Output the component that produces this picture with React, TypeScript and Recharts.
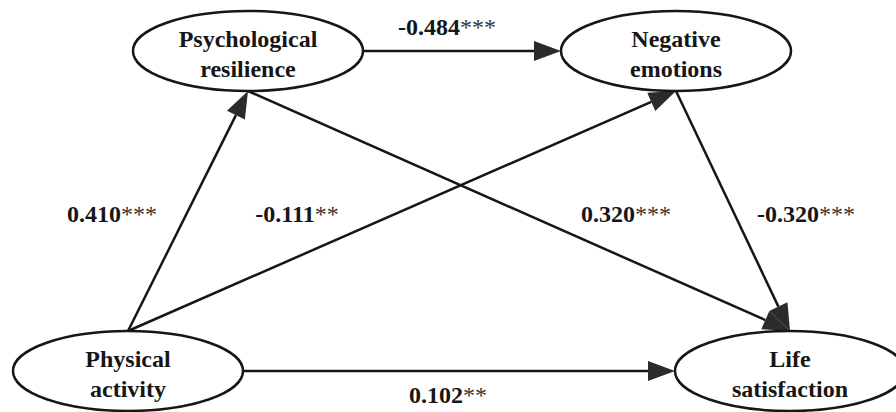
import { ScatterChart, Scatter, XAxis, YAxis, ReferenceLine } from 'recharts'

// Path model: nodes (latent variables) and standardized coefficients

const nodeIds = ['PA', 'PR', 'NE', 'LS']
const nodeLine1 = ['Physical', 'Psychological', 'Negative', 'Life']
const nodeLine2 = ['activity', 'resilience', 'emotions', 'satisfaction']
const nodeX = [128, 248, 676, 790]
const nodeY = [371, 51, 51, 371]

const pathFrom = ['PA', 'PA', 'PR', 'PR', 'NE', 'PA']
const pathTo = ['PR', 'NE', 'NE', 'LS', 'LS', 'LS']
const pathCoef = [0.41, -0.111, -0.484, 0.32, -0.32, 0.102]
const pathSig = ['***', '**', '***', '***', '***', '**']
const labelX = [112, 297, 447, 626, 806, 448]
const labelY = [222, 222, 35, 222, 222, 403]

const W = 896
const H = 412
const RX = 115
const RY = 40
const HEAD_LEN = 27
const HEAD_W = 10
const FONT = 'Liberation Serif, Times New Roman, DejaVu Serif, serif'
const INK = '#161616'

const nodes = nodeIds.map((id, i) => ({
  id,
  x: nodeX[i],
  y: nodeY[i],
  line1: nodeLine1[i],
  line2: nodeLine2[i],
}))

function anchor(id: string, toward: string) {
  const a = nodes.find((n) => n.id === id)!
  const b = nodes.find((n) => n.id === toward)!
  if (a.y === b.y) {
    return { x: a.x + (b.x > a.x ? RX : -RX), y: a.y }
  }
  return { x: a.x, y: a.y + (b.y > a.y ? RY : -RY) }
}

const edges = pathFrom.map((from, i) => ({
  from,
  to: pathTo[i],
  start: anchor(from, pathTo[i]),
  end: anchor(pathTo[i], from),
}))

const labels = pathCoef.map((c, i) => ({
  x: labelX[i],
  y: labelY[i],
  value: c.toFixed(3),
  sig: pathSig[i],
}))

const textStyle = { fontFamily: FONT, fontSize: 24, fontWeight: 700 }

function NodeShape(props: any) {
  const { cx, cy, payload } = props
  return (
    <g>
      <ellipse cx={cx} cy={cy} rx={RX} ry={RY} fill="#fff" stroke={INK} strokeWidth={2.5} />
      <text x={cx} y={cy - 4} textAnchor="middle" style={textStyle} fill={INK}>
        {payload.line1}
      </text>
      <text x={cx} y={cy + 26} textAnchor="middle" style={textStyle} fill={INK}>
        {payload.line2}
      </text>
    </g>
  )
}

function ArrowLine(props: any) {
  const { x1, y1, x2, y2 } = props
  const dx = x2 - x1
  const dy = y2 - y1
  const len = Math.hypot(dx, dy)
  const ux = dx / len
  const uy = dy / len
  const bx = x2 - ux * HEAD_LEN
  const by = y2 - uy * HEAD_LEN
  const px = -uy * HEAD_W
  const py = ux * HEAD_W
  return (
    <g>
      <line x1={x1} y1={y1} x2={bx} y2={by} stroke={INK} strokeWidth={2.5} />
      <polygon points={`${x2},${y2} ${bx + px},${by + py} ${bx - px},${by - py}`} fill="#2b2b2b" />
    </g>
  )
}

function LabelShape(props: any) {
  const { cx, cy, payload } = props
  return (
    <text x={cx} y={cy} textAnchor="middle" style={textStyle} fill={INK}>
      {payload.value}
      <tspan fill="#333" style={{ fontWeight: 400 }}>{payload.sig}</tspan>
    </text>
  )
}

export default function App() {
  return (
    <div style={{ position: 'absolute', left: 0, top: 0, background: '#fff' }}>
      <ScatterChart width={W} height={H} margin={{ top: 0, right: 0, bottom: 0, left: 0 }}>
        <XAxis type="number" dataKey="x" domain={[0, W]} hide />
        <YAxis type="number" dataKey="y" domain={[0, H]} reversed hide />
        {edges.map((e) => (
          <ReferenceLine
            key={e.from + e.to}
            segment={[e.start, e.end]}
            ifOverflow="visible"
            shape={ArrowLine}
          />
        ))}
        <Scatter data={nodes} shape={NodeShape} isAnimationActive={false} />
        <Scatter data={labels} shape={LabelShape} isAnimationActive={false} />
      </ScatterChart>
    </div>
  )
}
